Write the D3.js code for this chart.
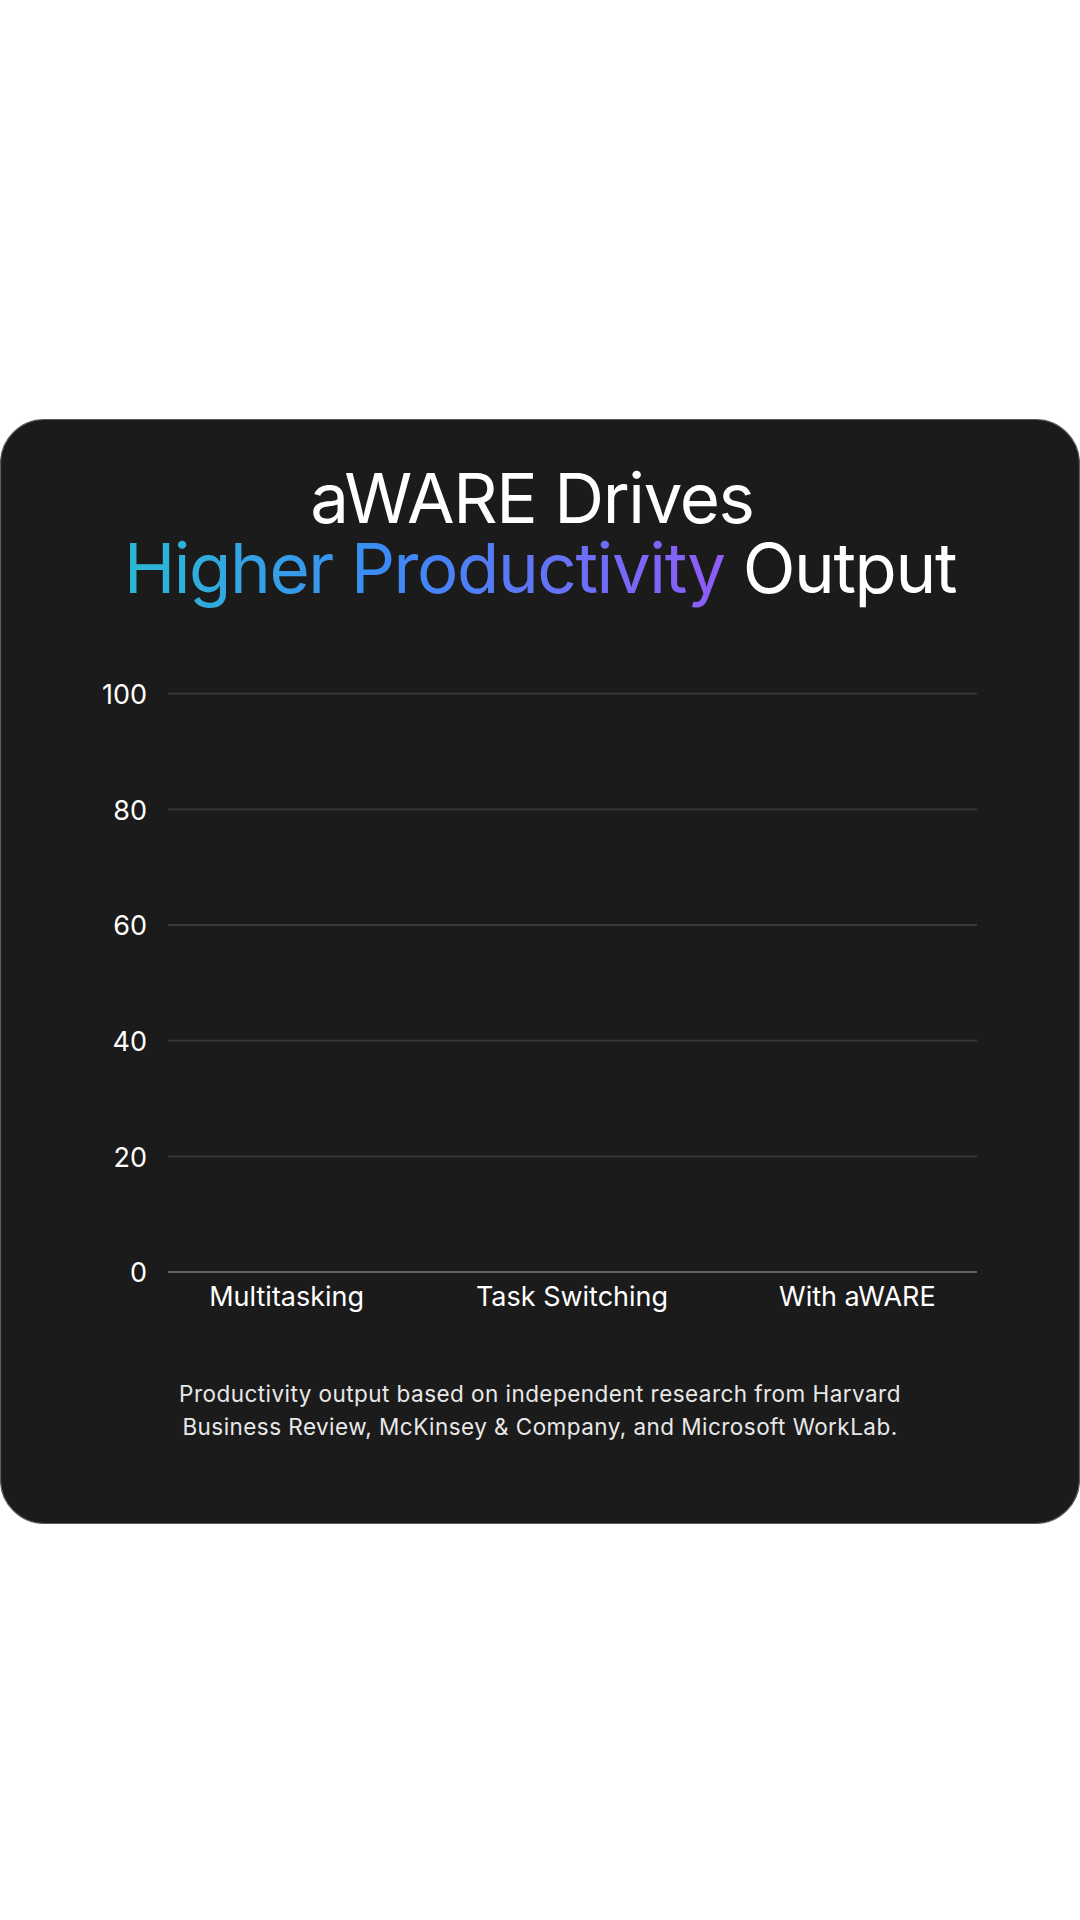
<!DOCTYPE html>
<html>
<head>
<meta charset="utf-8">
<script src="https://cdn.jsdelivr.net/npm/d3@7"></script>
<style>
  html, body { margin: 0; padding: 0; background: #ffffff; }
  svg { display: block; }
</style>
</head>
<body>
<svg id="chart" width="1080" height="1920"></svg>
<script>
// ---- data ----
const categories = ["Multitasking", "Task Switching", "With aWARE"];
const values = [0, 0, 0];            // bars shown at zero height in the reference
const yTicks = [0, 20, 40, 60, 80, 100];
const titleLine1 = "aWARE Drives";
const titleGradientPart = "Higher Productivity";
const titleWhitePart = "Output";
const footnoteLines = [
  "Productivity output based on independent research from Harvard",
  "Business Review, McKinsey & Company, and Microsoft WorkLab."
];

const svg = d3.select("#chart");
const FONT = "Inter, 'Noto Sans', sans-serif";

// card
svg.append("rect")
  .attr("x", 0.5).attr("y", 419.5)
  .attr("width", 1079).attr("height", 1104)
  .attr("rx", 44).attr("ry", 44)
  .attr("fill", "#1b1b1b")
  .attr("stroke", "#5a5a5a").attr("stroke-width", 1.2);

// gradient
const defs = svg.append("defs");
const grad = defs.append("linearGradient")
  .attr("id", "titleGrad")
  .attr("gradientUnits", "userSpaceOnUse")
  .attr("x1", 122).attr("x2", 718).attr("y1", 0).attr("y2", 0);
grad.append("stop").attr("offset", "0%").attr("stop-color", "#2bbad3");
grad.append("stop").attr("offset", "45%").attr("stop-color", "#3b8af6");
grad.append("stop").attr("offset", "100%").attr("stop-color", "#8e5cf7");

// title
svg.append("text")
  .attr("x", 532).attr("y", 523)
  .attr("text-anchor", "middle")
  .attr("font-family", FONT).attr("font-size", 69).attr("font-weight", 400)
  .attr("letter-spacing", "-0.02em")
  .attr("fill", "#ffffff")
  .text(titleLine1);

const t2 = svg.append("text")
  .attr("x", 540).attr("y", 593)
  .attr("text-anchor", "middle")
  .attr("font-family", FONT).attr("font-size", 69).attr("font-weight", 400)
  .attr("letter-spacing", "-0.02em");
t2.append("tspan").attr("fill", "url(#titleGrad)").text(titleGradientPart + " ");
t2.append("tspan").attr("fill", "#ffffff").text(titleWhitePart);

// scales
const y = d3.scaleLinear().domain([0, 100]).range([1272, 693.7]);
const x = d3.scaleBand().domain(categories).range([144, 1000])
  .paddingInner(0.3).paddingOuter(0.15);
const gridX0 = 168, gridX1 = 977;

// grid lines
svg.append("g").selectAll("line")
  .data(yTicks)
  .join("line")
  .attr("x1", gridX0).attr("x2", gridX1)
  .attr("y1", d => y(d)).attr("y2", d => y(d))
  .attr("stroke", d => d === 0 ? "#7a7a7a" : "#383838")
  .attr("stroke-width", d => d === 0 ? 1.5 : 1.8);

// y axis labels
const yAxis = d3.axisLeft(y).tickValues(yTicks).tickSize(0).tickPadding(0);
const yg = svg.append("g").attr("transform", "translate(147,0)").call(yAxis);
yg.select(".domain").remove();
yg.selectAll("text")
  .attr("font-family", FONT).attr("font-size", 27).attr("fill", "#ffffff")
  .attr("dy", "0.36em");

// bars (zero height in reference)
svg.append("g").selectAll("rect")
  .data(values)
  .join("rect")
  .attr("x", (d, i) => x(categories[i]))
  .attr("width", x.bandwidth())
  .attr("y", d => y(d))
  .attr("height", d => y(0) - y(d))
  .attr("fill", "#3b8af6");

// x axis labels
const xAxis = d3.axisBottom(x).tickSize(0).tickPadding(0);
const xg = svg.append("g").attr("transform", "translate(0,1272)").call(xAxis);
xg.select(".domain").remove();
xg.selectAll("text")
  .attr("font-family", FONT).attr("font-size", 27).attr("fill", "#ffffff")
  .attr("dy", null).attr("y", 34);

// footnote
svg.append("g").selectAll("text")
  .data(footnoteLines)
  .join("text")
  .attr("x", 540).attr("y", (d, i) => 1402 + i * 33)
  .attr("text-anchor", "middle")
  .attr("font-family", FONT).attr("font-size", 22.5)
  .attr("letter-spacing", "0.02em").attr("fill", "#e8e8e8")
  .text(d => d);
</script>
</body>
</html>
